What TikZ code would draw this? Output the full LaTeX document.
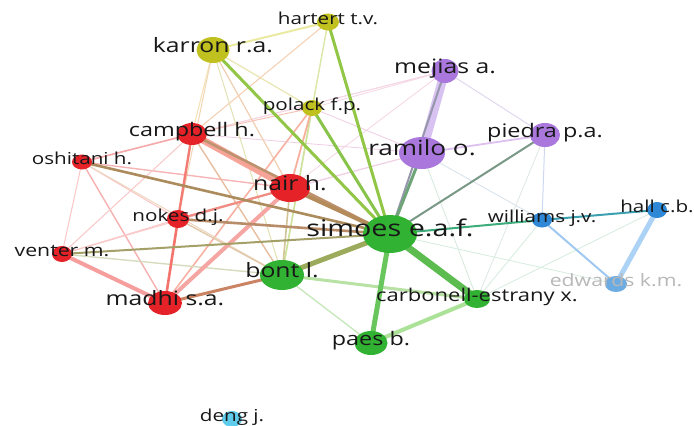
\documentclass[tikz,border=0pt]{standalone}
\usepackage{fontspec}
\newfontfamily\labelfont{Open Sans}[FakeStretch=1.25]
\usetikzlibrary{shapes.geometric,backgrounds}

\definecolor{vred}{RGB}{228,34,40}
\definecolor{vgreen}{RGB}{50,178,50}
\definecolor{vyellow}{RGB}{192,192,30}
\definecolor{vpurple}{RGB}{170,120,220}
\definecolor{vblue}{RGB}{46,136,214}
\definecolor{vcyan}{RGB}{96,204,236}
\definecolor{txt}{RGB}{24,24,24}

\newcommand\lblsize[1]{\labelfont\fontsize{#1}{#1}\selectfont}

\tikzset{
  vx/.style={ellipse, inner sep=0pt, draw=none},
  lbl/.style={anchor=mid, inner sep=0pt, text=txt},
  lnk/.style={line cap=round}
}

\begin{document}
\begin{tikzpicture}[x=1pt,y=-1pt]
\useasboundingbox (0,0) rectangle (694,426);

\node[vx, fill=vyellow, minimum width=22pt, minimum height=17pt] (hartert) at (328,22) {};
\node[vx, fill=vyellow, minimum width=33pt, minimum height=26pt] (karron) at (213,50) {};
\node[vx, fill=vpurple, minimum width=27pt, minimum height=24pt] (mejias) at (445,71) {};
\node[vx, fill=vyellow, minimum width=20pt, minimum height=16pt] (polack) at (312,108) {};
\node[vx, fill=vred, minimum width=30pt, minimum height=22pt] (campbell) at (192,134) {};
\node[vx, fill=vpurple, minimum width=30pt, minimum height=24pt] (piedra) at (545,135) {};
\node[vx, fill=vpurple, minimum width=46pt, minimum height=32pt] (ramilo) at (422,153) {};
\node[vx, fill=vred, minimum width=20pt, minimum height=15pt] (oshitani) at (82,162) {};
\node[vx, fill=vred, minimum width=40pt, minimum height=28pt] (nair) at (290,188) {};
\node[vx, fill=vblue, minimum width=20pt, minimum height=16pt] (hall) at (657,210) {};
\node[vx, fill=vred, minimum width=22pt, minimum height=18pt] (nokes) at (178,219) {};
\node[vx, fill=vblue, minimum width=20pt, minimum height=15pt] (williams) at (542,220) {};
\node[vx, fill=vgreen, minimum width=54pt, minimum height=38pt] (simoes) at (390,234) {};
\node[vx, fill=vred, minimum width=20pt, minimum height=16pt] (venter) at (62,254) {};
\node[vx, fill=vgreen, minimum width=44pt, minimum height=30pt] (bont) at (282,275) {};
\node[vx, fill=vblue!70!white, minimum width=22pt, minimum height=16pt] (edwards) at (616,284) {};
\node[vx, fill=vgreen, minimum width=26pt, minimum height=18pt] (carbonell) at (477,299) {};
\node[vx, fill=vred, minimum width=34pt, minimum height=24pt] (madhi) at (165,303) {};
\node[vx, fill=vgreen, minimum width=33pt, minimum height=24pt] (paes) at (371,343) {};
\node[vx, fill=vcyan, minimum width=20pt, minimum height=16pt] (deng) at (232,419) {};

\begin{scope}[on background layer]
\fill[white] (0,0) rectangle (694,426);
% faint cross links
\draw[lnk, line width=0.8pt, color={rgb,255:red,246;green,214;blue,228}] (mejias.center) -- (campbell.center);
\draw[lnk, line width=0.8pt, color={rgb,255:red,246;green,214;blue,228}] (mejias.center) -- (nair.center);
\draw[lnk, line width=0.8pt, color={rgb,255:red,246;green,214;blue,228}] (mejias.center) -- (polack.center);
\draw[lnk, line width=0.8pt, color={rgb,255:red,246;green,214;blue,228}] (mejias.center) -- (oshitani.center);
\draw[lnk, line width=0.8pt, color={rgb,255:red,240;green,206;blue,228}] (ramilo.center) -- (nair.center);
\draw[lnk, line width=0.8pt, color={rgb,255:red,240;green,206;blue,228}] (ramilo.center) -- (campbell.center);
\draw[lnk, line width=0.8pt, color={rgb,255:red,240;green,206;blue,228}] (ramilo.center) -- (nokes.center);
\draw[lnk, line width=0.8pt, color={rgb,255:red,240;green,206;blue,228}] (ramilo.center) -- (polack.center);
\draw[lnk, line width=0.8pt, color={rgb,255:red,214;green,226;blue,236}] (ramilo.center) -- (williams.center);
\draw[lnk, line width=0.8pt, color={rgb,255:red,214;green,232;blue,220}] (ramilo.center) -- (carbonell.center);
\draw[lnk, line width=0.8pt, color={rgb,255:red,222;green,232;blue,226}] (piedra.center) -- (carbonell.center);
\draw[lnk, line width=1pt, color={rgb,255:red,206;green,216;blue,240}] (piedra.center) -- (williams.center);
\draw[lnk, line width=0.8pt, color={rgb,255:red,214;green,236;blue,222}] (hall.center) -- (carbonell.center);
\draw[lnk, line width=0.8pt, color={rgb,255:red,214;green,236;blue,222}] (williams.center) -- (carbonell.center);
\draw[lnk, line width=0.8pt, color={rgb,255:red,214;green,236;blue,222}] (edwards.center) -- (simoes.center);
% yellow cluster
\draw[lnk, line width=2pt, color={rgb,255:red,234;green,234;blue,160}] (karron.center) -- (hartert.center);
\draw[lnk, line width=1.2pt, color={rgb,255:red,232;green,230;blue,176}] (karron.center) -- (polack.center);
\draw[lnk, line width=1pt, color={rgb,255:red,244;green,226;blue,180}] (karron.center) -- (campbell.center);
\draw[lnk, line width=1.2pt, color={rgb,255:red,242;green,206;blue,176}] (karron.center) -- (nair.center);
\draw[lnk, line width=1pt, color={rgb,255:red,226;green,226;blue,178}] (karron.center) -- (bont.center);
\draw[lnk, line width=1pt, color={rgb,255:red,240;green,214;blue,180}] (karron.center) -- (nokes.center);
\draw[lnk, line width=1.2pt, color={rgb,255:red,232;green,232;blue,160}] (hartert.center) -- (polack.center);
\draw[lnk, line width=1pt, color={rgb,255:red,246;green,206;blue,176}] (hartert.center) -- (campbell.center);
\draw[lnk, line width=1pt, color={rgb,255:red,214;green,232;blue,172}] (hartert.center) -- (bont.center);
\draw[lnk, line width=1.6pt, color={rgb,255:red,206;green,226;blue,156}] (polack.center) -- (bont.center);
\draw[lnk, line width=1.8pt, color={rgb,255:red,246;green,176;blue,156}] (polack.center) -- (nair.center);
\draw[lnk, line width=1.6pt, color={rgb,255:red,248;green,178;blue,164}] (polack.center) -- (madhi.center);
\draw[lnk, line width=1pt, color={rgb,255:red,246;green,196;blue,182}] (polack.center) -- (campbell.center);
% red cluster
\draw[lnk, line width=1pt, color={rgb,255:red,250;green,198;blue,198}] (oshitani.center) -- (venter.center);
\draw[lnk, line width=1pt, color={rgb,255:red,250;green,198;blue,198}] (oshitani.center) -- (nokes.center);
\draw[lnk, line width=1.4pt, color={rgb,255:red,246;green,176;blue,176}] (oshitani.center) -- (madhi.center);
\draw[lnk, line width=1.4pt, color={rgb,255:red,246;green,180;blue,180}] (oshitani.center) -- (nair.center);
\draw[lnk, line width=1.6pt, color={rgb,255:red,246;green,170;blue,170}] (oshitani.center) -- (campbell.center);
\draw[lnk, line width=1pt, color={rgb,255:red,236;green,214;blue,190}] (oshitani.center) -- (bont.center);
\draw[lnk, line width=1pt, color={rgb,255:red,250;green,200;blue,200}] (venter.center) -- (campbell.center);
\draw[lnk, line width=1pt, color={rgb,255:red,250;green,200;blue,200}] (venter.center) -- (nokes.center);
\draw[lnk, line width=1pt, color={rgb,255:red,250;green,200;blue,200}] (venter.center) -- (nair.center);
\draw[lnk, line width=1.4pt, color={rgb,255:red,214;green,220;blue,190}] (venter.center) -- (bont.center);
\draw[lnk, line width=4pt, color={rgb,255:red,246;green,158;blue,158}] (venter.center) -- (madhi.center);
\draw[lnk, line width=2.4pt, color={rgb,255:red,242;green,124;blue,116}] (campbell.center) -- (nokes.center);
\draw[lnk, line width=2.6pt, color={rgb,255:red,242;green,116;blue,108}] (nokes.center) -- (madhi.center);
\draw[lnk, line width=1.4pt, color={rgb,255:red,232;green,190;blue,160}] (campbell.center) -- (bont.center);
\draw[lnk, line width=2.2pt, color={rgb,255:red,240;green,140;blue,130}] (nokes.center) -- (nair.center);
\draw[lnk, line width=1.4pt, color={rgb,255:red,226;green,200;blue,170}] (nokes.center) -- (bont.center);
\draw[lnk, line width=4pt, color={rgb,255:red,246;green,166;blue,162}] (madhi.center) -- (nair.center);
\draw[lnk, line width=7pt, color={rgb,255:red,246;green,164;blue,152}] (campbell.center) -- (nair.center);
\draw[lnk, line width=1.6pt, color={rgb,255:red,210;green,196;blue,150}] (nair.center) -- (bont.center);
\draw[lnk, line width=3pt, color={rgb,255:red,202;green,132;blue,100}] (madhi.center) -- (bont.center);
% purple and blue clusters
\draw[lnk, line width=9pt, color={rgb,255:red,216;green,194;blue,242}] (mejias.center) -- (ramilo.center);
\draw[lnk, line width=1pt, color={rgb,255:red,226;green,216;blue,240}] (mejias.center) -- (piedra.center);
\draw[lnk, line width=1.8pt, color={rgb,255:red,222;green,192;blue,240}] (ramilo.center) -- (piedra.center);
\draw[lnk, line width=2pt, color={rgb,255:red,150;green,150;blue,172}] (mejias.center) -- (simoes.center);
\draw[lnk, line width=2pt, color={rgb,255:red,160;green,200;blue,240}] (williams.center) -- (edwards.center);
\draw[lnk, line width=5pt, color={rgb,255:red,172;green,210;blue,246}] (hall.center) -- (edwards.center);
\draw[lnk, line width=2pt, color={rgb,255:red,60;green,160;blue,176}] (williams.center) -- (hall.center);
% green cluster
\draw[lnk, line width=1.4pt, color={rgb,255:red,200;green,232;blue,190}] (bont.center) -- (paes.center);
\draw[lnk, line width=3pt, color={rgb,255:red,184;green,226;blue,164}] (bont.center) -- (carbonell.center);
\draw[lnk, line width=4pt, color={rgb,255:red,172;green,226;blue,152}] (paes.center) -- (carbonell.center);
\draw[lnk, line width=3pt, color={rgb,255:red,146;green,198;blue,70}] (karron.center) -- (simoes.center);
\draw[lnk, line width=3pt, color={rgb,255:red,146;green,198;blue,70}] (hartert.center) -- (simoes.center);
\draw[lnk, line width=3pt, color={rgb,255:red,136;green,196;blue,74}] (polack.center) -- (simoes.center);
\draw[lnk, line width=2.6pt, color={rgb,255:red,190;green,146;blue,110}] (campbell.center) -- (simoes.center);
\draw[lnk, line width=2.6pt, color={rgb,255:red,172;green,140;blue,92}] (oshitani.center) -- (simoes.center);
\draw[lnk, line width=2.6pt, color={rgb,255:red,184;green,140;blue,104}] (nokes.center) -- (simoes.center);
\draw[lnk, line width=2pt, color={rgb,255:red,164;green,160;blue,104}] (venter.center) -- (simoes.center);
\draw[lnk, line width=4pt, color={rgb,255:red,180;green,140;blue,92}] (nair.center) -- (simoes.center);
\draw[lnk, line width=5pt, color={rgb,255:red,156;green,170;blue,92}] (bont.center) -- (simoes.center);
\draw[lnk, line width=3pt, color={rgb,255:red,110;green,164;blue,120}] (ramilo.center) -- (simoes.center);
\draw[lnk, line width=2pt, color={rgb,255:red,122;green,152;blue,134}] (piedra.center) -- (simoes.center);
\draw[lnk, line width=2pt, color={rgb,255:red,60;green,172;blue,122}] (williams.center) -- (simoes.center);
\draw[lnk, line width=5pt, color={rgb,255:red,104;green,198;blue,92}] (paes.center) -- (simoes.center);
\draw[lnk, line width=7pt, color={rgb,255:red,92;green,188;blue,80}] (carbonell.center) -- (simoes.center);
\end{scope}

\node[lbl, font=\lblsize{16.5}] (hartert-l) at (hartert.center) {hartert t.v.};
\node[lbl, font=\lblsize{19.8}] (karron-l) at (karron.center) {karron r.a.};
\node[lbl, font=\lblsize{19.8}] (mejias-l) at (mejias.center) {mejias a.};
\node[lbl, font=\lblsize{16.5}] (polack-l) at (polack.center) {polack f.p.};
\node[lbl, font=\lblsize{18.7}] (campbell-l) at (campbell.center) {campbell h.};
\node[lbl, font=\lblsize{18.7}] (piedra-l) at (piedra.center) {piedra p.a.};
\node[lbl, font=\lblsize{20.9}] (ramilo-l) at (ramilo.center) {ramilo o.};
\node[lbl, font=\lblsize{16.5}] (oshitani-l) at (oshitani.center) {oshitani h.};
\node[lbl, font=\lblsize{19.8}] (nair-l) at (nair.center) {nair h.};
\node[lbl, font=\lblsize{16.5}] (hall-l) at (hall.center) {hall c.b.};
\node[lbl, font=\lblsize{16.5}] (nokes-l) at (nokes.center) {nokes d.j.};
\node[lbl, font=\lblsize{16.5}] (williams-l) at (williams.center) {williams j.v.};
\node[lbl, font=\lblsize{23}] (simoes-l) at (simoes.center) {simoes e.a.f.};
\node[lbl, font=\lblsize{17}] (venter-l) at (venter.center) {venter m.};
\node[lbl, font=\lblsize{19.8}] (bont-l) at (bont.center) {bont l.};
\node[lbl, font=\lblsize{17}, text={rgb,255:red,184;green,184;blue,184}] (edwards-l) at (edwards.center) {edwards k.m.};
\node[lbl, font=\lblsize{17.6}] (carbonell-l) at (carbonell.center) {carbonell-estrany x.};
\node[lbl, font=\lblsize{19.8}] (madhi-l) at (madhi.center) {madhi s.a.};
\node[lbl, font=\lblsize{18.7}] (paes-l) at (paes.center) {paes b.};
\node[lbl, font=\lblsize{16.5}] (deng-l) at (deng.center) {deng j.};
\end{tikzpicture}
\end{document}
